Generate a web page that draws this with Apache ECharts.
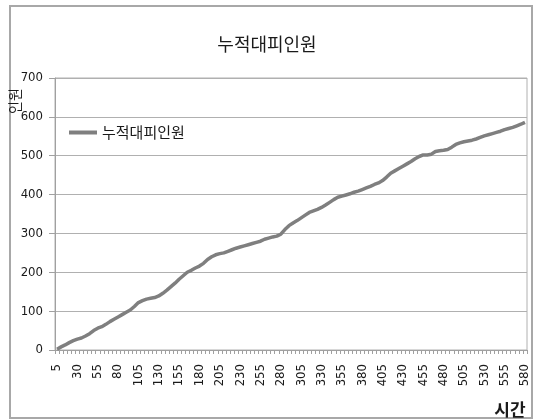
<!DOCTYPE html>
<html>
<head>
<meta charset="utf-8">
<style>
  html, body { margin: 0; padding: 0; background: #fff; }
  #chart { width: 534px; height: 420px; }
</style>
<script src="https://cdn.jsdelivr.net/npm/echarts@6/dist/echarts.min.js"></script>
</head>
<body>
<div id="chart"></div>
<script>
// Time steps (5 .. 580, every 5) and cumulative evacuees at each step
const timeSteps = [];
for (let t = 5; t <= 580; t += 5) timeSteps.push(String(t));

const evacuated = [
  2, 8, 13, 19, 24, 28, 31, 36, 42, 50,
  56, 60, 66, 73, 79, 85, 91, 97, 103, 112,
  122, 127, 131, 133, 135, 139, 146, 154, 163, 172,
  182, 191, 200, 205, 211, 216, 223, 233, 240, 245,
  248, 250, 254, 258, 262, 265, 268, 271, 274, 277,
  280, 285, 288, 291, 293, 298, 310, 320, 327, 333,
  340, 347, 354, 358, 362, 367, 373, 380, 387, 393,
  396, 399, 402, 406, 409, 413, 417, 421, 426, 430,
  436, 445, 455, 461, 467, 473, 479, 485, 492, 498,
  502, 502, 504, 511, 513, 514, 516, 522, 529, 533,
  536, 538, 540, 543, 547, 551, 554, 557, 560, 563,
  567, 570, 573, 577, 581, 586
];

const yTicks = { min: 0, max: 700, step: 100 };

const seriesName = '누적대피인원';
const yName = '인원';
const xName = '시간';

const numFont = "'Liberation Sans Narrow', 'DejaVu Sans Condensed', 'Liberation Sans', sans-serif";
const krFont = "'Noto Sans CJK KR', sans-serif";

const chart = echarts.init(document.getElementById('chart'), null, { renderer: 'canvas' });

chart.setOption({
  backgroundColor: '#ffffff',
  animation: false,
  title: {
    text: seriesName,
    left: 'center',
    top: 30,
    textStyle: { fontFamily: krFont, fontSize: 18, fontWeight: 'normal', color: '#1a1a1a' }
  },
  legend: {
    data: [seriesName],
    left: 64,
    top: 120,
    icon: 'rect',
    itemWidth: 28,
    itemHeight: 4,
    itemGap: 4,
    textStyle: { fontFamily: krFont, fontSize: 15, color: '#1a1a1a' }
  },
  grid: {
    left: 55, right: 7, top: 78, bottom: 70,
    show: true,
    borderColor: '#b0b0b0',
    borderWidth: 1
  },
  xAxis: {
    type: 'category',
    data: timeSteps,
    boundaryGap: true,
    axisLine: { lineStyle: { color: '#a0a0a0', width: 1 } },
    axisTick: { show: true, interval: 0, length: 4, lineStyle: { color: '#a0a0a0' } },
    axisLabel: {
      interval: 4,
      rotate: 90,
      margin: 14,
      fontFamily: numFont,
      fontSize: 13,
      color: '#1a1a1a'
    },
    splitLine: { show: false }
  },
  yAxis: {
    type: 'value',
    min: yTicks.min,
    max: yTicks.max,
    interval: yTicks.step,
    axisLine: { show: true, lineStyle: { color: '#a0a0a0', width: 1 } },
    axisTick: { show: true, length: 6, lineStyle: { color: '#a0a0a0' } },
    axisLabel: { margin: 12, fontFamily: numFont, fontSize: 13, color: '#1a1a1a' },
    splitLine: { show: true, lineStyle: { color: '#b0b0b0', width: 1 } }
  },
  series: [{
    name: seriesName,
    type: 'line',
    data: evacuated,
    showSymbol: false,
    symbol: 'none',
    lineStyle: { color: '#7f7f7f', width: 3.5 },
    itemStyle: { color: '#7f7f7f' }
  }],
  graphic: [
    {
      type: 'rect',
      shape: { x: 10, y: 6, width: 522, height: 412 },
      style: { fill: 'none', stroke: '#a8a8a8', lineWidth: 2 },
      silent: true
    },
    {
      type: 'text',
      x: 15, y: 101,
      rotation: Math.PI / 2,
      style: {
        text: yName,
        fontFamily: krFont,
        fontSize: 14,
        fill: '#1a1a1a',
        align: 'center',
        verticalAlign: 'middle'
      }
    },
    {
      type: 'text',
      x: 510, y: 410,
      style: {
        text: xName,
        fontFamily: krFont,
        fontSize: 17,
        fontWeight: 'bold',
        fill: '#1a1a1a',
        align: 'center',
        verticalAlign: 'middle'
      }
    }
  ]
});
</script>
</body>
</html>
